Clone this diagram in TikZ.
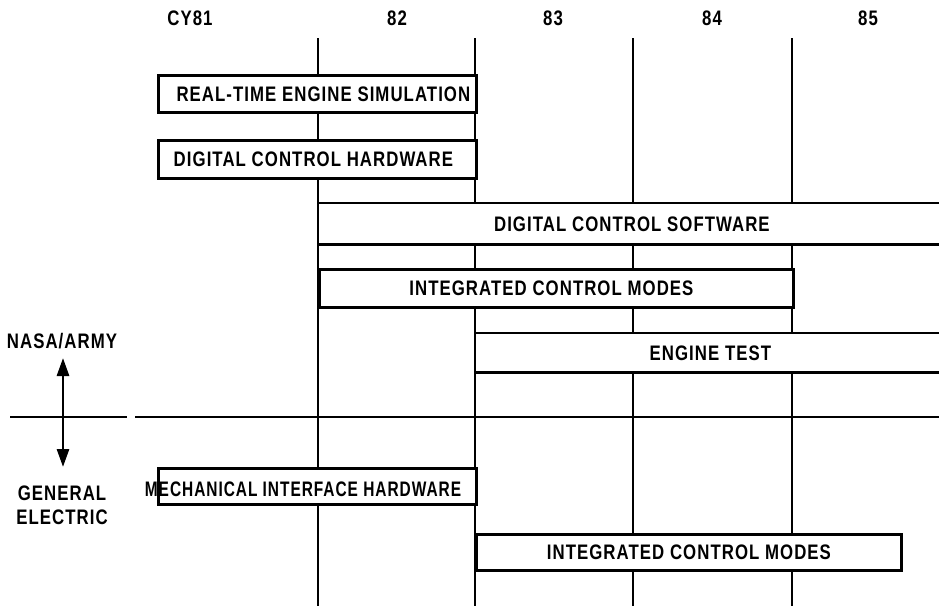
\documentclass[tikz,border=0pt]{standalone}
\usepackage{fontspec}
\setmainfont{Liberation Sans}[FakeStretch=0.80,LetterSpace=5]
\usetikzlibrary{arrows.meta}
\begin{document}
\begin{tikzpicture}[x=1pt,y=-1pt,line width=2.8pt,
  txt/.style={font=\bfseries\fontsize{21}{23}\selectfont,inner sep=0pt},
  bar/.style={txt,draw,fill=white,anchor=north west},
  openbar/.style={txt,fill=white,anchor=north west},
  grid/.style={line width=2.8pt},
  tip/.style={-{Triangle[length=18pt,width=12pt]}}]
\useasboundingbox (0,0) rectangle (939,606);
\fill[white] (0,0) rectangle (939,606);
% year labels
\node[txt] (y81) at (190,18) {CY81};
\node[txt] (y82) at (397,18) {82};
\node[txt] (y83) at (553,18) {83};
\node[txt] (y84) at (712,18) {84};
\node[txt] (y85) at (868,18) {85};
% vertical year lines
\foreach \x in {318,475,633,792} \draw[grid] (\x,38) -- (\x,606);
% divider
\draw[grid] (10,417) -- (127,417);
\draw[grid] (135,417) -- (939,417);
% NASA
\node[txt] (na) at (62,341) {NASA/ARMY};
\node[txt,align=center] (ge) at (62,505) {GENERAL\\[1pt]ELECTRIC};
\coordinate (atop) at (63,358);
\coordinate (abot) at (63,467);
\coordinate (amid) at (63,412);
\draw[tip] (amid) -- (atop);
\draw[tip] (amid) -- (abot);
% bars
\node[bar,minimum width=318pt,minimum height=37pt] (rt) at (157,74) {\hspace*{12pt}REAL-TIME ENGINE SIMULATION};
\node[bar,minimum width=318pt,minimum height=38pt] (dh) at (157,139) {DIGITAL CONTROL HARDWARE\hspace*{8pt}};
\node[openbar,minimum width=625pt,minimum height=39pt] (ds) at (318,203) {DIGITAL CONTROL SOFTWARE};
\draw (ds.north east) -- (ds.north west) -- (ds.south west) -- (ds.south east);
\node[bar,minimum width=474pt,minimum height=38pt] (icm) at (318,268) {INTEGRATED CONTROL MODES\hspace*{10pt}};
\node[openbar,minimum width=468pt,minimum height=37pt] (et) at (475,333) {ENGINE TEST};
\draw (et.north east) -- (et.north west) -- (et.south west) -- (et.south east);
\node[bar,minimum width=318pt,minimum height=36pt] (mi) at (157,467) {};
\node[txt] (mit) at (303,489) {\scalebox{0.92}[1]{MECHANICAL INTERFACE HARDWARE}};
\node[bar,minimum width=425pt,minimum height=36pt] (gicm) at (475,533) {INTEGRATED CONTROL MODES};
\end{tikzpicture}
\end{document}
